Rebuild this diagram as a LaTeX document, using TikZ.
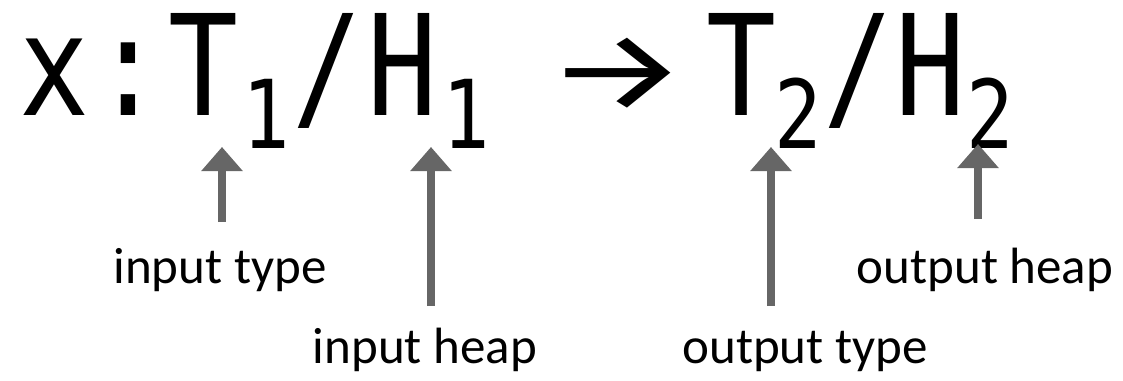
\documentclass[tikz,border=0pt]{standalone}
\usepackage{fontspec}
\setmainfont{Carlito}
\newfontfamily\monoglyph{DejaVu Sans Mono}
\newfontfamily\arrowfont{Fira Sans}
\usetikzlibrary{arrows.meta}
\definecolor{pointergray}{HTML}{666666}
\newcommand{\narrowglyph}[1]{\scalebox{0.83}[1]{#1}}
\tikzset{
  big/.style={inner sep=0pt, anchor=base, font=\monoglyph\fontsize{140}{140}\selectfont},
  subs/.style={inner sep=0pt, anchor=base, font=\monoglyph\fontsize{95}{95}\selectfont},
  lbl/.style={inner sep=0pt, anchor=base, font=\fontsize{51}{51}\selectfont},
  ptr/.style={draw=pointergray, line width=8pt, -{Triangle[width=40pt,length=24pt,fill=pointergray]}}
}
\begin{document}
\begin{tikzpicture}[x=1pt,y=-1pt]
\useasboundingbox (0,0) rectangle (1123,380);
% formula
\node[big] (x) at (54,115) {\narrowglyph{x}};
\node[big] (colon) at (128,115) {\narrowglyph{:}};
\node[big] (T1) at (203,115) {\narrowglyph{T}};
\node[subs] (s1) at (266,148) {\narrowglyph{1}};
\node[big] (sl1) at (327,115) {\narrowglyph{/}};
\node[big] (H1) at (402,115) {\narrowglyph{H}};
\node[subs] (s2) at (466,148) {\narrowglyph{1}};
\node[inner sep=0pt, anchor=center] (arr) at (617,74) {\scalebox{1}[0.72]{\resizebox{142pt}{!}{\arrowfont →}}};
\node[big] (T2) at (741,115) {\narrowglyph{T}};
\node[subs] (s3) at (798,148) {\narrowglyph{2}};
\node[big] (sl2) at (858,115) {\narrowglyph{/}};
\node[big] (H2) at (930,115) {\narrowglyph{H}};
\node[subs] (s4) at (990,148) {\narrowglyph{2}};
% labels
\node[lbl] (it) at (220,283) {input type};
\node[lbl] (ih) at (425,363) {input heap};
\node[lbl] (ot) at (805,363) {output type};
\node[lbl] (oh) at (985,283) {output heap};
% pointer coordinates
\coordinate (a1s) at (222,222);
\coordinate (a1t) at (222,147);
\coordinate (a2s) at (431,306);
\coordinate (a2t) at (431,147);
\coordinate (a3s) at (771,306);
\coordinate (a3t) at (771,147);
\coordinate (a4s) at (978,219);
\coordinate (a4t) at (978,144);
\draw[ptr] (a1s) -- (a1t);
\draw[ptr] (a2s) -- (a2t);
\draw[ptr] (a3s) -- (a3t);
\draw[ptr] (a4s) -- (a4t);
\end{tikzpicture}
\end{document}
